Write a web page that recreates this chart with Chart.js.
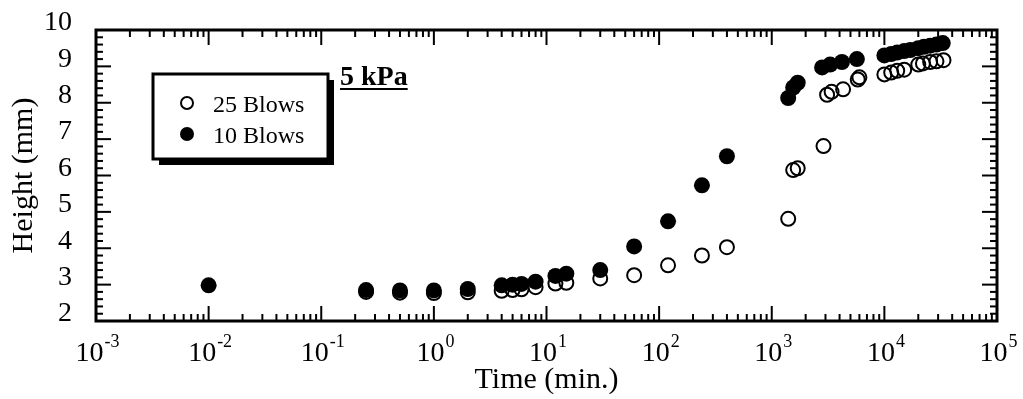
<!DOCTYPE html>
<html><head><meta charset="utf-8">
<script src="https://cdn.jsdelivr.net/npm/chart.js@4/dist/chart.umd.min.js"></script>
<style>html,body{margin:0;padding:0;background:#fff}canvas{display:block}</style>
</head><body>
<canvas id="c" width="1023" height="399"></canvas>
<script>
// ---- data ----
const seriesLabels = ['25 Blows', '10 Blows'];
const times25  = [0.25, 0.5, 1, 2, 4, 5, 6, 8, 12, 15, 30, 60, 120, 240, 400, 1400, 1550, 1700, 2880, 3100, 3400, 4300, 5800, 6000, 10000, 11500, 13000, 15000, 20000, 22000, 25500, 29000, 33500];
const height25 = [2.80, 2.78, 2.77, 2.79, 2.83, 2.85, 2.87, 2.93, 3.03, 3.05, 3.17, 3.26, 3.53, 3.80, 4.03, 4.81, 6.15, 6.20, 6.81, 8.22, 8.30, 8.37, 8.64, 8.70, 8.78, 8.83, 8.88, 8.91, 9.05, 9.08, 9.12, 9.14, 9.17];
const times10  = [0.01, 0.25, 0.5, 1, 2, 4, 5, 6, 8, 12, 15, 30, 60, 120, 240, 400, 1400, 1550, 1700, 2800, 3300, 4200, 5700, 10000, 11500, 13000, 15000, 17000, 20000, 22500, 25500, 29000, 33000];
const height10 = [2.98, 2.85, 2.84, 2.84, 2.88, 2.98, 3.00, 3.02, 3.08, 3.24, 3.30, 3.40, 4.05, 4.74, 5.73, 6.53, 8.13, 8.42, 8.55, 8.97, 9.05, 9.12, 9.20, 9.30, 9.34, 9.38, 9.42, 9.45, 9.50, 9.54, 9.57, 9.60, 9.64];
const xTickExponents = [-3, -2, -1, 0, 1, 2, 3, 4, 5];
const yTickValues = [2, 3, 4, 5, 6, 7, 8, 9, 10];
const chartTitle = '5 kPa';
const xTitle = 'Time (min.)';
const yTitle = 'Height (mm)';

const FONT = '"Liberation Serif", "Times New Roman", serif';

function toPoints(xs, ys) { return xs.map((x, i) => ({x: x, y: ys[i]})); }

const framePlugin = {
  id: 'frame',
  afterDatasetsDraw(chart) {
    const ctx = chart.ctx, a = chart.chartArea, xs = chart.scales.x, ys = chart.scales.y;
    const line = (x1, y1, x2, y2) => { ctx.beginPath(); ctx.moveTo(x1, y1); ctx.lineTo(x2, y2); ctx.stroke(); };
    ctx.save();
    ctx.strokeStyle = '#000';
    ctx.lineWidth = 2;
    for (let i = 0; i < yTickValues.length; i++) {
      const v = yTickValues[i];
      const py = ys.getPixelForValue(v);
      line(a.left, py, a.left + 15, py);
      line(a.right, py, a.right - 15, py);
      if (i < yTickValues.length - 1) {
        for (let k = 1; k < 5; k++) {
          const pm = ys.getPixelForValue(v + k * 0.2);
          line(a.left, pm, a.left + 7, pm);
          line(a.right, pm, a.right - 7, pm);
        }
      }
    }
    for (let i = 0; i < xTickExponents.length; i++) {
      const e = xTickExponents[i];
      const px = xs.getPixelForValue(Math.pow(10, e));
      line(px, a.bottom, px, a.bottom - 15);
      line(px, a.top, px, a.top + 15);
      if (i < xTickExponents.length - 1) {
        for (let m = 2; m <= 9; m++) {
          const pm = xs.getPixelForValue(m * Math.pow(10, e));
          line(pm, a.bottom, pm, a.bottom - 7);
          line(pm, a.top, pm, a.top + 7);
        }
      }
    }
    ctx.lineWidth = 3;
    ctx.strokeRect(a.left, a.top, a.right - a.left, a.bottom - a.top);

    // x tick labels 10^n
    ctx.fillStyle = '#000';
    ctx.textBaseline = 'alphabetic';
    ctx.textAlign = 'left';
    for (const e of xTickExponents) {
      const px = xs.getPixelForValue(Math.pow(10, e));
      ctx.font = '28px ' + FONT;
      const wb = ctx.measureText('10').width;
      ctx.font = '18px ' + FONT;
      const es = String(e);
      const we = ctx.measureText(es).width;
      const x0 = px - (wb + we) / 2 + 1;
      ctx.font = '28px ' + FONT;
      ctx.fillText('10', x0, 361);
      ctx.font = '18px ' + FONT;
      ctx.fillText(es, x0 + wb + 1, 347);
    }

    // legend box with drop shadow
    const bx = 153, by = 74, bw = 175, bh = 85;
    ctx.fillStyle = '#000';
    ctx.fillRect(bx + 6, by + 6, bw, bh);
    ctx.fillStyle = '#fff';
    ctx.fillRect(bx, by, bw, bh);
    ctx.lineWidth = 3;
    ctx.strokeStyle = '#000';
    ctx.strokeRect(bx, by, bw, bh);
    ctx.lineWidth = 2;
    ctx.beginPath(); ctx.arc(187, 103, 6, 0, Math.PI * 2); ctx.stroke();
    ctx.fillStyle = '#000';
    ctx.beginPath(); ctx.arc(187, 134, 7, 0, Math.PI * 2); ctx.fill();
    ctx.font = '24px ' + FONT;
    ctx.fillText(chart.data.datasets[0].label, 213, 112);
    ctx.fillText(chart.data.datasets[1].label, 213, 143);

    // chart title, bold underlined
    ctx.font = 'bold 28px ' + FONT;
    const tx = 340, ty = 85;
    ctx.fillText(chartTitle, tx, ty);
    const tw = ctx.measureText(chartTitle).width;
    ctx.fillRect(tx, ty + 3, tw, 2);
    ctx.restore();
  }
};

new Chart(document.getElementById('c'), {
  type: 'scatter',
  data: {
    datasets: [
      { label: seriesLabels[0], data: toPoints(times25, height25), pointRadius: 7, pointBorderWidth: 2,
        borderColor: '#000', backgroundColor: 'rgba(0,0,0,0)', pointBackgroundColor: 'rgba(0,0,0,0)', pointBorderColor: '#000', order: 2 },
      { label: seriesLabels[1], data: toPoints(times10, height10), pointRadius: 8, pointBorderWidth: 0,
        borderColor: '#000', backgroundColor: '#000', pointBackgroundColor: '#000', pointBorderColor: '#000', order: 1 }
    ]
  },
  options: {
    responsive: false, animation: false, devicePixelRatio: 1,
    layout: { padding: { top: 30, right: 26, left: 0, bottom: 0 } },
    plugins: { legend: { display: false }, tooltip: { enabled: false } },
    scales: {
      x: {
        type: 'logarithmic', min: 1e-3, max: 1e5,
        grid: { display: false, drawTicks: false }, border: { display: false },
        ticks: { display: false },
        title: { display: true, text: xTitle, color: '#000', font: { family: FONT, size: 30 }, padding: { top: 0, bottom: 1 } },
        afterFit(s) { s.height = 78; s.paddingLeft = 0; s.paddingRight = 0; }
      },
      y: {
        type: 'linear', min: 2, max: 10,
        afterBuildTicks(s) { s.ticks = yTickValues.map(v => ({ value: v })); },
        grid: { display: false, drawTicks: false }, border: { display: false },
        ticks: { color: '#000', font: { family: FONT, size: 28 }, padding: 24, labelOffset: -7, autoSkip: false },
        title: { display: true, text: yTitle, color: '#000', font: { family: FONT, size: 30 }, padding: { top: 6, bottom: 0 } },
        afterFit(s) { s.width = 96; s.paddingTop = 0; s.paddingBottom = 0; }
      }
    }
  },
  plugins: [framePlugin]
});
</script>
</body></html>
